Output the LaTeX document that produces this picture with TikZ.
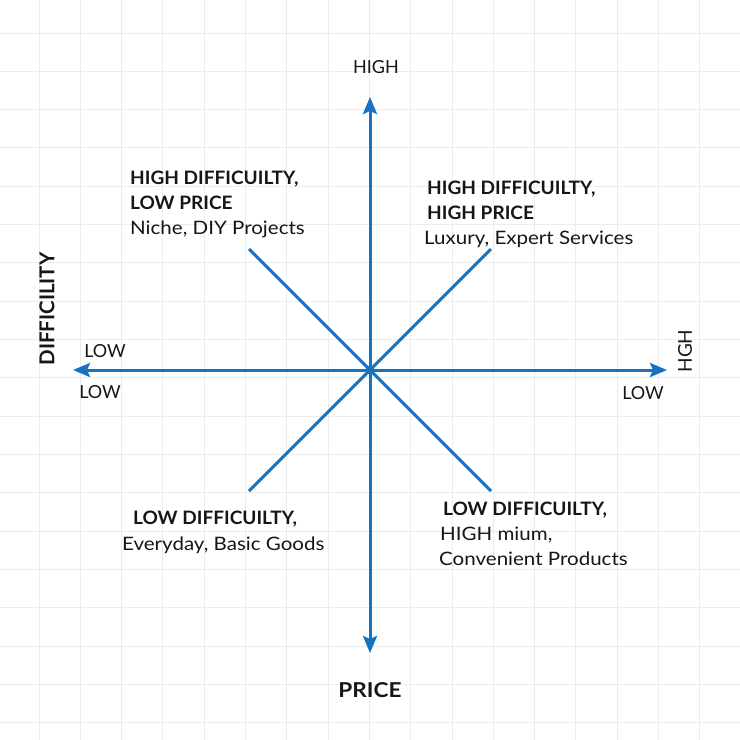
\documentclass[tikz,border=0pt]{standalone}
\usepackage{fontspec}
\setmainfont{Lato}
\newfontfamily\regfont{Lato}[FakeStretch=1.11]
\newfontfamily\titlefont{Lato}[FakeStretch=1.03]
\newfontfamily\widebold{Lato}[FakeStretch=1.1]
\usetikzlibrary{arrows.meta}
\definecolor{axisblue}{RGB}{24,114,192}
\definecolor{gridgray}{RGB}{236,236,236}
\definecolor{ink}{RGB}{22,22,22}
\begin{document}
\begin{tikzpicture}[x=1pt,y=-1pt,
  gridline/.style={draw=gridgray,line width=1pt},
  axisline/.style={draw=axisblue,line width=3pt},
  axisarrow/.style={axisline,-{Stealth[length=17pt,width=14pt,inset=3pt]}},
  lbl/.style={inner sep=0pt,text=ink,anchor=base west,font=\regfont\fontsize{18.5}{25}\selectfont},
  blbl/.style={lbl,font=\titlefont\fontsize{18.5}{25}\selectfont\bfseries},
  axlbl/.style={inner sep=0pt,text=ink,anchor=base,font=\fontsize{18}{22}\selectfont}]
\useasboundingbox (0,0) rectangle (740,740);
\fill[white] (0,0) rectangle (740,740);
\foreach \i in {0,...,17} \draw[gridline] ({39+41.3*\i},0) -- ({39+41.3*\i},740);
\foreach \i in {0,...,18} \draw[gridline] (0,{33+38.33*\i}) -- (740,{33+38.33*\i});

\coordinate (c) at (370,370);
\coordinate (top) at (370,97);
\coordinate (bot) at (370,653);
\coordinate (left) at (73,370);
\coordinate (right) at (667,370);
\coordinate (ul) at (249,249);
\coordinate (ur) at (491,249);
\coordinate (ll) at (249,491);
\coordinate (lr) at (491,491);

\draw[axisline] (c) -- (ul);
\draw[axisline] (c) -- (ur);
\draw[axisline] (c) -- (ll);
\draw[axisline] (c) -- (lr);
\draw[axisarrow] (c) -- (top);
\draw[axisarrow] (c) -- (bot);
\draw[axisarrow] (c) -- (left);
\draw[axisarrow] (c) -- (right);
\fill[axisblue] (c) circle (4.5pt);

% axis labels
\node[axlbl] (high) at (376,73) {HIGH};
\node[axlbl,font=\widebold\fontsize{20.5}{24}\selectfont\bfseries] (price) at (370,697) {PRICE};
\node[inner sep=0pt,text=ink,rotate=90,font=\fontsize{20.5}{24}\selectfont\bfseries] (diff) at (47,309) {DIFFICILITY};
\node[inner sep=0pt,text=ink,rotate=90,font=\fontsize{19}{24}\selectfont] (hgh) at (685,351) {HGH};
\node[axlbl] (lowl1) at (105,357) {LOW};
\node[axlbl] (lowl2) at (100,398) {LOW};
\node[axlbl] (lowr) at (643,399) {LOW};

% quadrant texts
\node[blbl] (tl1) at (130,184) {HIGH DIFFICUILTY,};
\node[blbl] (tl2) at (130,209) {LOW PRICE};
\node[lbl] (tl3) at (130,234) {Niche, DIY Projects};

\node[blbl] (tr1) at (427,194) {HIGH DIFFICUILTY,};
\node[blbl] (tr2) at (427,219) {HIGH PRICE};
\node[lbl] (tr3) at (424,244) {Luxury, Expert Services};

\node[blbl] (bl1) at (133,524) {LOW DIFFICUILTY,};
\node[lbl] (bl2) at (122,550) {Everyday, Basic Goods};

\node[blbl] (br1) at (443,515) {LOW DIFFICUILTY,};
\node[lbl] (br2) at (440,540) {HIGH mium,};
\node[lbl] (br3) at (439,565) {Convenient Products};
\end{tikzpicture}
\end{document}
